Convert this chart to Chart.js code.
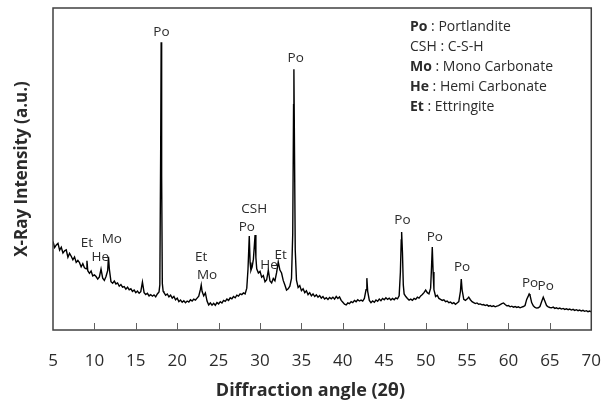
<!DOCTYPE html>
<html>
<head>
<meta charset="utf-8">
<script src="https://cdn.jsdelivr.net/npm/chart.js@4/dist/chart.umd.min.js"></script>
<style>
  body { margin: 0; background: #fff; }
  canvas { display: block; }
</style>
</head>
<body>
<canvas id="xrd" width="614" height="410"></canvas>
<script>
// 2-theta angles (deg) and intensity (a.u.)
var angles = [
  5.0,5.2,5.4,5.6,5.8,6.0,6.2,6.4,6.6,6.8,7.0,7.2,7.4,7.6,7.8,8.0,8.2,8.4,8.6,8.8,
  9.0,9.1,9.2,9.4,9.6,9.8,10.0,10.2,10.4,10.6,10.8,11.0,11.2,11.4,11.6,11.7,11.8,12.0,12.2,12.4,
  12.6,12.8,13.0,13.2,13.4,13.6,13.8,14.0,14.2,14.4,14.6,14.8,15.0,15.2,15.4,15.6,15.8,16.0,16.2,16.4,
  16.6,16.8,17.0,17.2,17.4,17.6,17.8,17.9,18.0,18.06,18.12,18.2,18.3,18.4,18.6,18.8,19.0,19.2,19.4,19.6,
  19.8,20.0,20.2,20.4,20.6,20.8,21.0,21.2,21.4,21.6,21.8,22.0,22.2,22.4,22.6,22.8,22.9,23.0,23.2,23.4,
  23.6,23.8,24.0,24.2,24.4,24.6,24.8,25.0,25.2,25.4,25.6,25.8,26.0,26.2,26.4,26.6,26.8,27.0,27.2,27.4,
  27.6,27.8,28.0,28.2,28.4,28.55,28.7,28.8,28.9,29.05,29.2,29.4,29.5,29.6,29.8,30.0,30.2,30.4,30.6,30.8,
  31.0,31.2,31.4,31.6,31.8,32.0,32.2,32.4,32.6,32.8,33.0,33.2,33.4,33.6,33.8,33.95,34.05,34.09,34.15,34.25,
  34.4,34.6,34.8,35.0,35.2,35.4,35.6,35.8,36.0,36.2,36.4,36.6,36.8,37.0,37.2,37.4,37.6,37.8,38.0,38.2,
  38.4,38.6,38.8,39.0,39.2,39.4,39.6,39.8,40.0,40.2,40.4,40.6,40.8,41.0,41.2,41.4,41.6,41.8,42.0,42.2,
  42.4,42.6,42.8,42.9,43.0,43.2,43.4,43.6,43.8,44.0,44.2,44.4,44.6,44.8,45.0,45.2,45.4,45.6,45.8,46.0,
  46.2,46.4,46.6,46.8,46.95,47.05,47.1,47.2,47.3,47.4,47.6,47.8,48.0,48.2,48.4,48.6,48.8,49.0,49.2,49.4,
  49.6,49.8,50.0,50.2,50.4,50.6,50.7,50.8,50.9,51.0,51.2,51.4,51.6,51.8,52.0,52.2,52.4,52.6,52.8,53.0,
  53.2,53.4,53.6,53.8,54.0,54.2,54.3,54.4,54.6,54.8,55.0,55.2,55.4,55.6,55.8,56.0,56.2,56.4,56.6,56.8,
  57.0,57.2,57.4,57.6,57.8,58.0,58.2,58.4,58.6,58.8,59.0,59.2,59.4,59.6,59.8,60.0,60.2,60.4,60.6,60.8,
  61.0,61.2,61.4,61.6,61.8,62.0,62.2,62.4,62.5,62.6,62.8,63.0,63.2,63.4,63.6,63.8,64.0,64.2,64.4,64.6,
  64.8,65.0,65.2,65.4,65.6,65.8,66.0,66.2,66.4,66.6,66.8,67.0,67.2,67.4,67.6,67.8,68.0,68.2,68.4,68.6,
  68.8,69.0,69.2,69.4,69.6,69.8,70.0
];
var intensity = [
  27.5,25.6,26.4,26.9,24.8,25.7,23.9,24.6,24.9,22.6,23.8,22.9,21.8,22.7,21.0,21.6,20.9,19.6,20.6,19.3,
  19.0,21.5,18.4,17.6,18.3,16.8,17.1,16.6,15.8,16.5,18.9,16.1,15.4,16.6,18.4,22.7,19.0,15.0,14.5,15.2,
  14.3,14.6,13.6,14.1,13.3,13.5,12.7,13.3,12.5,12.8,12.0,12.4,11.6,12.1,11.4,11.9,14.9,11.6,11.0,11.4,
  10.6,11.0,10.5,10.9,10.3,11.2,11.8,14.0,55.0,89.4,48.0,14.5,12.0,11.6,10.8,11.2,10.3,10.8,9.9,10.4,
  9.4,9.9,8.8,9.3,8.6,9.1,8.5,9.0,8.7,9.4,9.0,9.6,9.3,9.9,10.5,12.6,14.0,12.0,10.6,11.5,
  9.0,7.8,8.4,7.7,8.3,7.7,8.5,8.1,8.8,8.4,9.2,8.9,9.6,9.2,10.0,9.7,10.4,10.0,10.8,10.5,
  11.2,11.0,11.5,11.2,13.0,19.0,29.2,21.0,18.5,19.6,22.0,29.5,22.5,19.0,17.7,18.2,16.4,16.9,15.0,15.6,
  18.6,15.2,14.6,16.0,15.3,17.8,21.1,18.6,17.7,15.4,14.0,12.4,12.8,13.6,16.0,30.0,70.0,81.0,60.0,25.0,
  15.5,13.2,13.8,12.2,12.8,11.6,12.2,11.0,11.6,10.6,11.2,10.4,10.9,10.2,10.7,9.9,10.4,9.6,10.0,9.5,
  10.1,9.7,10.2,9.6,10.4,9.8,10.3,9.2,8.6,8.0,7.8,8.4,8.2,8.8,8.5,9.2,8.8,9.4,9.0,9.3,
  9.0,9.8,12.5,16.1,12.0,9.2,8.5,9.0,8.6,9.3,8.9,9.6,9.1,9.8,9.4,10.0,9.5,9.9,9.3,9.8,
  9.4,10.0,9.7,10.6,18.0,28.0,30.4,24.0,14.0,11.2,10.4,9.8,9.3,9.6,9.2,9.8,9.5,10.2,9.9,10.6,
  11.0,11.6,12.4,11.6,11.2,13.0,19.0,25.8,18.0,12.5,10.4,10.8,9.8,9.5,9.2,9.4,8.8,9.0,8.5,8.7,
  8.2,8.5,8.0,8.4,8.8,12.0,15.8,12.5,9.5,9.2,9.6,10.2,9.4,8.8,8.5,8.2,8.4,8.0,8.1,7.8,
  7.9,7.6,7.8,7.4,7.6,7.3,7.5,7.2,7.4,7.6,7.9,8.2,8.4,7.9,7.5,7.6,7.2,7.4,7.1,7.3,
  7.0,7.2,6.9,7.1,7.3,7.6,9.5,10.6,11.2,10.8,8.5,7.5,7.0,6.8,6.9,7.3,8.8,10.2,8.9,7.6,
  7.2,7.0,6.9,7.1,6.7,6.9,6.6,6.8,6.5,6.7,6.4,6.6,6.3,6.5,6.2,6.4,6.1,6.3,6.0,6.2,
  5.9,6.1,5.8,6.0,5.7,5.9,5.6
];

// x axis
var xTicks = [5, 10, 15, 20, 25, 30, 35, 40, 45, 50, 55, 60, 65, 70];

// phase labels above the peaks: text, 2-theta, intensity level
var peakNames  = ["Et", "He", "Mo", "Po", "Et", "Mo", "Po", "CSH", "He", "Et", "Po", "Po", "Po", "Po", "Po", "Po"];
var peakAngles = [9.1, 10.7, 12.1, 18.1, 22.9, 23.6, 28.4, 29.3, 31.1, 32.5, 34.3, 47.2, 51.1, 54.4, 62.6, 64.5];
var peakLevels = [27.0, 22.7, 28.3, 92.5, 22.7, 17.1, 32.0, 37.6, 20.2, 23.3, 84.5, 34.2, 28.9, 19.6, 14.6, 13.7];

// key in the upper right
var keyCodes = ["Po", "CSH", "Mo", "He", "Et"];
var keyBold  = [true, false, true, true, true];
var keyNames = [" : Portlandite", " : C-S-H", " : Mono Carbonate", " : Hemi Carbonate", " : Ettringite"];

var textColor = "#2b2b2b";
var fontFamily = "'Open Sans', 'Noto Sans', sans-serif";

var points = angles.map(function(a, i){ return {x: a, y: intensity[i]}; });

var decorations = {
  id: "decorations",
  afterDraw: function(chart){
    var ctx = chart.ctx, area = chart.chartArea;
    var xs = chart.scales.x, ys = chart.scales.y;
    ctx.save();
    // frame
    ctx.strokeStyle = "#404040";
    ctx.lineWidth = 1.5;
    ctx.strokeRect(area.left, area.top, area.right - area.left, area.bottom - area.top);
    // inward tick marks on the x axis
    ctx.lineWidth = 1;
    ctx.strokeStyle = "#606060";
    xTicks.slice(1, -1).forEach(function(t){
      var px = Math.round(xs.getPixelForValue(t)) + 0.5;
      ctx.beginPath();
      ctx.moveTo(px, area.bottom);
      ctx.lineTo(px, area.bottom - 7);
      ctx.stroke();
    });
    // peak labels
    ctx.fillStyle = textColor;
    ctx.font = "13.5px " + fontFamily;
    ctx.textAlign = "center";
    ctx.textBaseline = "middle";
    peakNames.forEach(function(n, i){
      ctx.fillText(n, xs.getPixelForValue(peakAngles[i]), ys.getPixelForValue(peakLevels[i]));
    });
    // key
    ctx.textAlign = "left";
    var kx = area.left + 357, ky = area.top + 19;
    keyCodes.forEach(function(c, i){
      ctx.font = (keyBold[i] ? "bold " : "") + "14px " + fontFamily;
      ctx.fillText(c, kx, ky + i * 20);
      var w = ctx.measureText(c).width;
      ctx.font = "14px " + fontFamily;
      ctx.fillText(keyNames[i], kx + w, ky + i * 20);
    });
    ctx.restore();
  }
};

var myChart = new Chart(document.getElementById("xrd"), {
  type: "line",
  data: {
    datasets: [{
      data: points,
      borderColor: "#000000",
      borderWidth: 1.4,
      pointRadius: 0,
      tension: 0,
      fill: false
    }]
  },
  options: {
    responsive: false,
    animation: false,
    layout: { padding: { left: 0, right: 20, top: 8, bottom: 0 } },
    plugins: { legend: { display: false }, tooltip: { enabled: false } },
    scales: {
      x: {
        type: "linear",
        min: 5,
        max: 70,
        afterFit: function(scale){ scale.height = 80; },
        afterBuildTicks: function(scale){ scale.ticks = xTicks.map(function(v){ return {value: v}; }); },
        grid: { display: false },
        border: { display: false },
        ticks: { color: textColor, padding: 13, font: { family: fontFamily, size: 17 } },
        title: {
          display: true,
          // trailing spaces nudge the centred title left, as in the original
          text: "Diffraction angle (2θ)     ",
          color: textColor,
          padding: { top: 0, bottom: 8 },
          font: { family: fontFamily, size: 18, weight: "bold" }
        }
      },
      y: {
        min: 0,
        max: 100,
        afterFit: function(scale){ scale.width = 53; },
        grid: { display: false },
        border: { display: false },
        ticks: { display: false },
        title: {
          display: true,
          text: "X-Ray Intensity (a.u.)",
          color: textColor,
          padding: { top: 12, bottom: 0 },
          font: { family: fontFamily, size: 17, weight: "bold" }
        }
      }
    }
  },
  plugins: [decorations]
});
</script>
</body>
</html>
